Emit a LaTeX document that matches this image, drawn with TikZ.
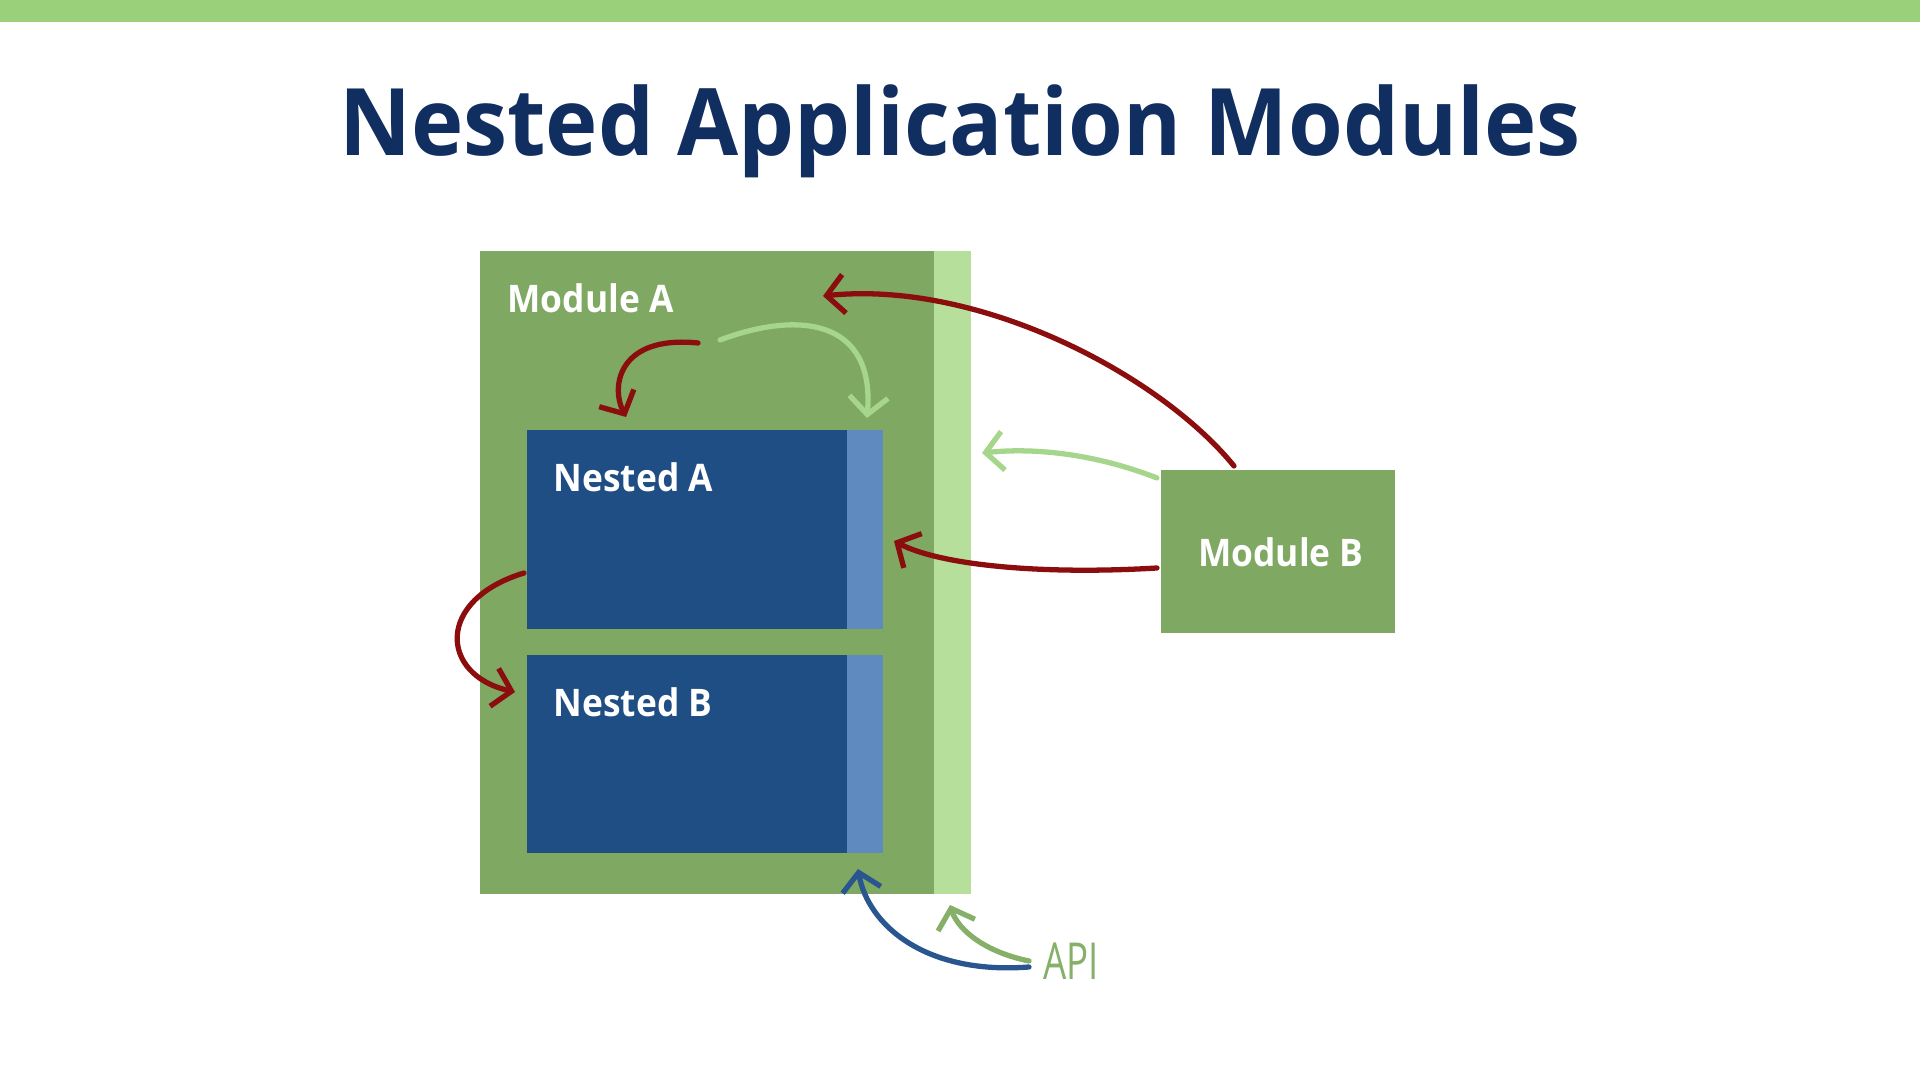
\documentclass[tikz,border=0pt]{standalone}
\usepackage{fontspec}
\setmainfont{Open Sans}
\usetikzlibrary{arrows.meta}

\definecolor{barGreen}{HTML}{9BD07A}
\definecolor{titleBlue}{HTML}{112E61}
\definecolor{modGreen}{HTML}{7FA862}
\definecolor{apiGreen}{HTML}{B5DF9B}
\definecolor{nestBlue}{HTML}{1F4E85}
\definecolor{nestApi}{HTML}{5F8ABF}
\definecolor{arrRed}{HTML}{8B0D0D}
\definecolor{arrGreen}{HTML}{A6D68B}
\definecolor{arrBlue}{HTML}{2A5690}
\definecolor{arrApi}{HTML}{86B068}

\tikzset{
  box/.style = {inner sep = 0, outer sep = 0, anchor = north west},
  boxlabel/.style = {text = white, xscale = 0.93, font = \fontsize{10.8}{13}\selectfont\bfseries, inner sep = 0},
  sketch/.style = {line width = 1.5pt, line cap = round, -{Straight Barb[length = 5pt, width = 11pt]}},
}

\begin{document}
\begin{tikzpicture}[x = 0.01cm, y = -0.01cm]
\useasboundingbox (0,0) rectangle (1920,1080);
\fill[barGreen] (0,0) rectangle (1920,22);

\node[text = titleBlue, inner sep = 0, anchor = base, xscale = 0.95, font = \fontsize{26.5}{32}\selectfont\bfseries] (title) at (960,156) {Nested Application Modules};

% module A with its api strip
\node[box, fill = modGreen, minimum width = 4.54cm, minimum height = 6.43cm] (modA) at (480,251) {};
\node[box, fill = apiGreen, minimum width = 0.37cm, minimum height = 6.43cm] (modAapi) at (modA.north east) {};
\node[boxlabel, anchor = base west] (modAlabel) at (507,313) {Module A};

% nested modules
\node[box, fill = nestBlue, minimum width = 3.20cm, minimum height = 1.99cm] (nestA) at (527,430) {};
\node[box, fill = nestApi, minimum width = 0.36cm, minimum height = 1.99cm] (nestAapi) at (nestA.north east) {};
\node[boxlabel, anchor = base west] (nestAlabel) at (553,492) {Nested A};

\node[box, fill = nestBlue, minimum width = 3.20cm, minimum height = 1.98cm] (nestB) at (527,655) {};
\node[box, fill = nestApi, minimum width = 0.36cm, minimum height = 1.98cm] (nestBapi) at (nestB.north east) {};
\node[boxlabel, anchor = base west] (nestBlabel) at (553,717) {Nested B};

% module B
\node[box, fill = modGreen, minimum width = 2.34cm, minimum height = 1.63cm] (modB) at (1161,470) {};
\node[boxlabel, anchor = base] (modBlabel) at (1281,567) {Module B};

\node[text = arrApi, inner sep = 0, anchor = base west, xscale = 0.72, font = \fontsize{14.5}{16}\selectfont] (api) at (1043,980) {API};

% arrow ends
\coordinate (bTop)   at (1234,466);
\coordinate (bLeftA) at (1157,478);
\coordinate (bLeftB) at (1157,568);
\coordinate (aHead)  at (823,296);
\coordinate (aApi)   at (982,453);
\coordinate (nApi)   at (894,541);
\coordinate (redIn)  at (698,343);
\coordinate (grnIn)  at (720,340);
\coordinate (nATop)  at (626,417);
\coordinate (nAApiTop) at (867,418);
\coordinate (nALeft) at (524,573);
\coordinate (nBLeft) at (515,692);
\coordinate (apiOut) at (1029,967);
\coordinate (apiOutB) at (1029,961);
\coordinate (nBApiBot) at (858,869);
\coordinate (aApiBot) at (950,905);

\draw[sketch, arrRed]   (bTop) .. controls (1160,375) and (980,280) .. (aHead);
\draw[sketch, arrGreen] (bLeftA) .. controls (1090,452) and (1030,448) .. (aApi);
\draw[sketch, arrRed]   (bLeftB) .. controls (1040,575) and (940,565) .. (nApi);
\draw[sketch, arrRed]   (redIn) .. controls (620,335) and (610,385) .. (nATop);
\draw[sketch, arrGreen] (grnIn) .. controls (800,310) and (875,320) .. (nAApiTop);
\draw[sketch, arrRed]   (nALeft) .. controls (435,600) and (440,675) .. (nBLeft);
\draw[sketch, arrBlue]  (apiOut) .. controls (925,975) and (868,925) .. (nBApiBot);
\draw[sketch, arrApi]   (apiOutB) .. controls (985,952) and (958,930) .. (aApiBot);
\end{tikzpicture}
\end{document}
